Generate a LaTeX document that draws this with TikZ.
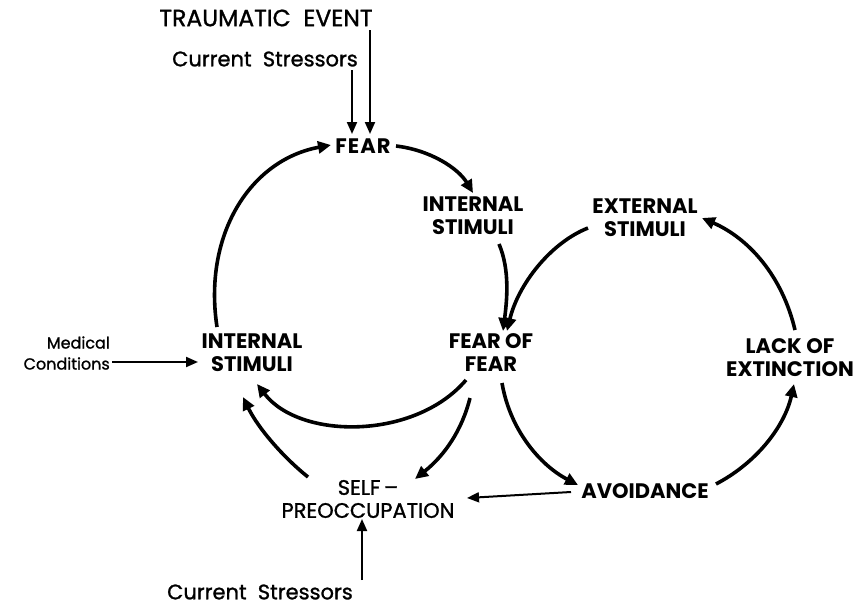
\documentclass[tikz,border=0pt]{standalone}
\usepackage{fontspec}
\setmainfont{Poppins}
\newfontfamily\medfont{Poppins}[FakeBold=1.2]
\usetikzlibrary{arrows.meta}
\begin{document}
\begin{tikzpicture}[x=1pt,y=-1pt,
  lbl/.style={font=\fontsize{21}{23}\selectfont\bfseries, align=center, inner sep=0pt},
  thin/.style={font=\fontsize{21}{23}\selectfont\medfont, align=center, inner sep=0pt},
  loop/.style={line width=3.6pt, -{Triangle[length=13pt,width=12pt]}},
  feed/.style={line width=2pt, -{Triangle[length=12pt,width=10pt]}}]
\useasboundingbox (0,0) rectangle (860,608);

% labels
\node[thin, font=\fontsize{23.5}{26}\selectfont\medfont] (trauma) at (266,18) {TRAUMATIC\ \ EVENT};
\node[thin] (cs1) at (265,59) {Current\ \ Stressors};
\node[lbl] (fear) at (363,146) {F\kern1ptE\kern1ptA\kern1ptR};
\node[lbl] (isr) at (473,216) {INTERNAL\\STIMULI};
\node[lbl] (ext) at (645,218) {EXTERNAL\\STIMULI};
\node[thin, font=\fontsize{16}{21}\selectfont\medfont, align=right, anchor=east] (med) at (110,353) {Medical\\Conditions};
\node[lbl] (isl) at (252,353) {INTERNAL\\STIMULI};
\node[lbl] (ff) at (491,353) {FEAR OF\\FEAR};
\node[lbl] (lack) at (790,358) {LACK OF\\EXTINCTION};
\node[thin] (self) at (368,499) {SELF\,–\\PREOCCUPATION};
\node[lbl] (avoid) at (645,491) {AVOIDANCE};
\node[thin] (cs2) at (260,592) {Current\ \ Stressors};

% free ends of the feeding arrows
\coordinate (t1) at (370,30);
\coordinate (t2) at (352,70);
\coordinate (fin1) at (370,134);
\coordinate (fin2) at (352,134);
\coordinate (m1) at (112,362);
\coordinate (m2) at (198,362);
\coordinate (b1) at (362,580);
\coordinate (b2) at (362,519);
\coordinate (a1) at (571,492);
\coordinate (a2) at (467,498);

% feeding arrows
\draw[feed] (t1) -- (fin1);
\draw[feed] (t2) -- (fin2);
\draw[feed] (m1) -- (m2);
\draw[feed] (b1) -- (b2);
\draw[feed] (a1) -- (a2);

% left loop
\draw[loop] (217,327) .. controls (203,235) and (250,160) .. (331,145);
\draw[loop] (396,146) .. controls (430,150) and (458,168) .. (473,193);
\draw[loop] (499,244) .. controls (510,270) and (507,300) .. (503,331);
\draw[loop] (466,380) .. controls (415,440) and (300,440) .. (257,384);
\draw[loop] (470,398) .. controls (462,430) and (445,455) .. (415,479);
\draw[loop] (308,477) .. controls (283,457) and (258,428) .. (243,397);

% right loop
\draw[loop] (588,228) .. controls (550,243) and (518,285) .. (507,331);
\draw[loop] (502,383) .. controls (510,430) and (540,465) .. (578,485);
\draw[loop] (716,484) .. controls (758,462) and (785,425) .. (794,384);
\draw[loop] (795,330) .. controls (782,275) and (748,238) .. (702,218);
\end{tikzpicture}
\end{document}
